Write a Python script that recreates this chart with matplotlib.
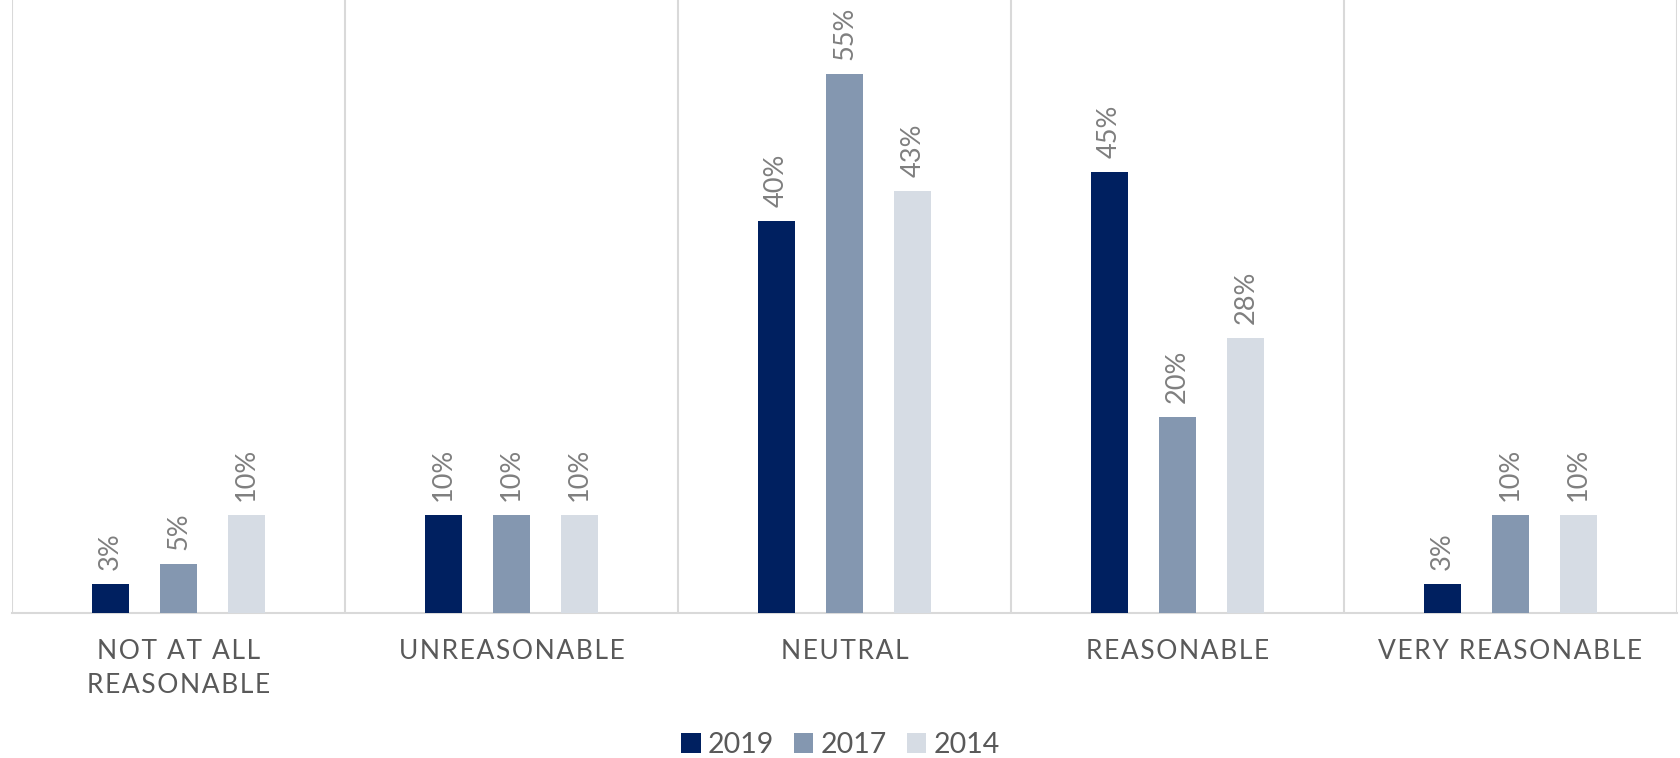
import numpy as np
import matplotlib
matplotlib.use('Agg')
import matplotlib.pyplot as plt
from matplotlib.patches import Patch

# data
categories = ['Not at all\nreasonable', 'Unreasonable', 'Neutral', 'Reasonable', 'Very reasonable']
years = ['2019', '2017', '2014']
v2019 = [3, 10, 40, 45, 3]
v2017 = [5, 10, 55, 20, 10]
v2014 = [10, 10, 43, 28, 10]
colors = ['#002060', '#8497B0', '#D6DCE4']

plt.rcParams['font.family'] = ['Lato', 'DejaVu Sans']

W, H = 1681, 758
fig = plt.figure(figsize=(W / 100, H / 100), dpi=100)
ax = fig.add_axes([12 / W, 1 - 613 / H, 1665 / W, 613 / H])

x = np.arange(len(categories))
width = 0.11
offsets = [-0.205, 0, 0.205]
for vals, off, c, yr in zip([v2019, v2017, v2014], offsets, colors, years):
    bars = ax.bar(x + off, vals, width, color=c, label=yr, zorder=3)
    ax.bar_label(bars, labels=[f'{v}%' for v in vals], rotation=90,
                 padding=10, color='#7f7f7f', fontsize=19.5)

ax.set_xlim(-0.5, len(categories) - 0.5)
ax.set_ylim(0, 62.5)
for b in np.arange(-0.5, len(categories), 1):
    ax.axvline(b, color='#d9d9d9', lw=1.5, zorder=1)
for s in ['top', 'left', 'right']:
    ax.spines[s].set_visible(False)
ax.spines['bottom'].set_color('#d9d9d9')
ax.spines['bottom'].set_linewidth(1.5)
ax.set_xticks([])
ax.set_yticks([])


def spaced(txt):
    # fake letter spacing with hair spaces
    return '\n'.join('\u200a'.join(line.upper()) for line in txt.split('\n'))


for i, cat in enumerate(categories):
    ax.annotate(spaced(cat), xy=(i, 0), xycoords=('data', 'axes fraction'),
                xytext=(0, -26), textcoords='offset pixels', ha='center', va='top',
                fontsize=19, color='#595959', linespacing=1.45, multialignment='center')

handles = [Patch(facecolor=c, label=y) for c, y in zip(colors, years)]
fig.legend(handles=handles, loc='center', bbox_to_anchor=(0.5, 1 - 745 / H), ncol=3,
           frameon=False, fontsize=20.5, labelcolor='#595959', handlelength=0.68,
           handleheight=0.68, handletextpad=0.25, columnspacing=0.7)

fig.savefig('out.png', dpi=100)
